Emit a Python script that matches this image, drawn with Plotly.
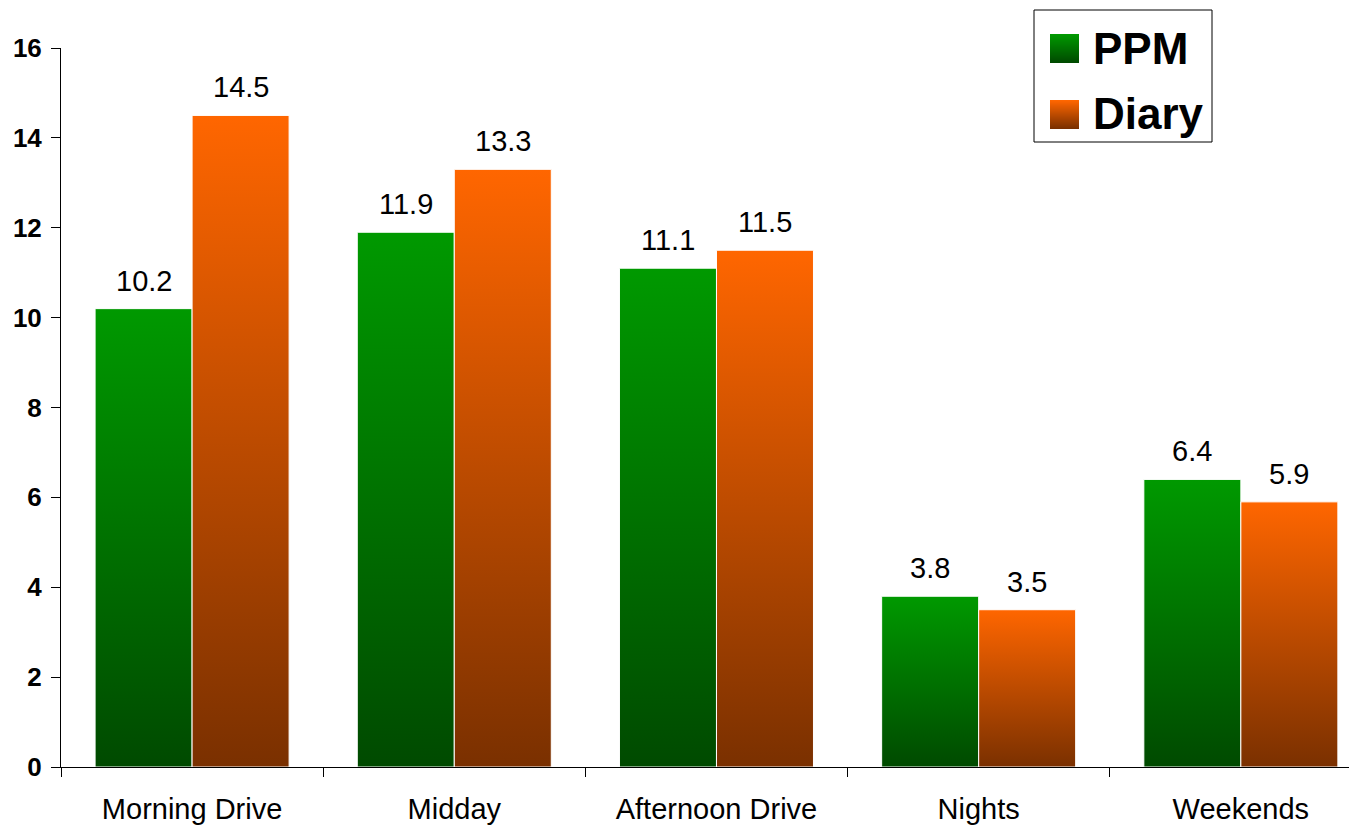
import base64
import struct
import zlib
import plotly.graph_objects as go

categories = ["Morning Drive", "Midday", "Afternoon Drive", "Nights", "Weekends"]
ppm = [10.2, 11.9, 11.1, 3.8, 6.4]
diary = [14.5, 13.3, 11.5, 3.5, 5.9]
y_ticks = [0, 2, 4, 6, 8, 10, 12, 14, 16]

series = [
    ("PPM", ppm, "#004a00", "#009900", -1),
    ("Diary", diary, "#7a3000", "#ff6600", 0),
]
BAR_W = 0.37
FONT = "Arial, Liberation Sans, sans-serif"

# plot-area geometry in page pixels (page has an 8px body margin)
PX_L, PX_R, PX_T, PX_B = 61, 1357, 48, 767


def px_x(p):
    return (p - PX_L) / (PX_R - PX_L)


def px_y(p):
    return (PX_B - p) / (PX_B - PX_T)


def hex_rgb(h):
    h = h.lstrip("#")
    return tuple(int(h[i:i + 2], 16) for i in (0, 2, 4))


def swatch(top, bottom, size=29):
    """Small vertical-gradient PNG used as a legend key."""
    t, b = hex_rgb(top), hex_rgb(bottom)
    raw = b""
    for r in range(size):
        f = r / (size - 1)
        c = bytes(round(t[k] + (b[k] - t[k]) * f) for k in range(3))
        raw += b"\x00" + c * size

    def chunk(tag, data):
        return (struct.pack(">I", len(data)) + tag + data
                + struct.pack(">I", zlib.crc32(tag + data) & 0xffffffff))

    png = (b"\x89PNG\r\n\x1a\n"
           + chunk(b"IHDR", struct.pack(">IIBBBBB", size, size, 8, 2, 0, 0, 0))
           + chunk(b"IDAT", zlib.compress(raw))
           + chunk(b"IEND", b""))
    return "data:image/png;base64," + base64.b64encode(png).decode()


fig = go.Figure()
for name, vals, dark, bright, off in series:
    for i, v in enumerate(vals):
        x0 = i + off * BAR_W
        x1 = x0 + BAR_W
        fig.add_trace(go.Scatter(
            x=[x0, x1, x1, x0, x0], y=[0, 0, v, v, 0],
            mode="lines", fill="toself",
            line=dict(color="white", width=1),
            fillgradient=dict(type="vertical", start=0, stop=v,
                              colorscale=[[0, dark], [1, bright]]),
            name=name, showlegend=False, hoverinfo="skip",
        ))
        fig.add_annotation(x=x0 + BAR_W / 2, y=v, text=f"{v:.1f}",
                           showarrow=False, yanchor="bottom", yshift=10,
                           font=dict(family=FONT, size=29, color="black"))

# manual legend (box, gradient swatches, labels)
fig.add_shape(type="rect", xref="paper", yref="paper",
              x0=px_x(1034), x1=px_x(1212), y0=px_y(142), y1=px_y(10),
              line=dict(color="black", width=1), fillcolor="rgba(0,0,0,0)",
              layer="above")
legend_rows = [("PPM", "#009900", "#004a00", 34, 48),
               ("Diary", "#ff6600", "#7a3000", 100, 114)]
for label, top, bottom, sw_top, text_mid in legend_rows:
    fig.add_layout_image(source=swatch(top, bottom), xref="paper", yref="paper",
                         x=px_x(1050), y=px_y(sw_top), sizex=29 / (PX_R - PX_L),
                         sizey=29 / (PX_B - PX_T), sizing="stretch",
                         xanchor="left", yanchor="top", layer="above")
    fig.add_annotation(xref="paper", yref="paper", x=px_x(1091), y=px_y(text_mid),
                       text=f"<b>{label}</b>", showarrow=False,
                       xanchor="left", yanchor="middle",
                       font=dict(family=FONT, size=44, color="black"))

fig.update_layout(
    width=1349, height=817,
    margin=dict(l=53, r=0, t=40, b=58),
    plot_bgcolor="white", paper_bgcolor="white",
    font=dict(family=FONT, color="black"),
    showlegend=False,
    xaxis=dict(range=[-0.5, 4.443], tickmode="array",
               tickvals=list(range(len(categories))), ticktext=categories,
               ticks="", showgrid=False, zeroline=False, automargin=False,
               showline=True, linecolor="black", linewidth=1,
               ticklabelstandoff=16,
               tickfont=dict(family=FONT, size=29, color="black"),
               minor=dict(tickmode="array",
                          tickvals=[i - 0.5 for i in range(len(categories))],
                          ticks="outside", ticklen=9, tickcolor="black",
                          showgrid=False)),
    yaxis=dict(range=[0, 16], tickmode="array", tickvals=y_ticks,
               ticks="outside", ticklen=9, tickcolor="black",
               showgrid=False, zeroline=False, automargin=False,
               showline=True, linecolor="black", linewidth=1,
               ticklabelstandoff=4,
               tickfont=dict(family=FONT, size=26, color="black", weight="bold")),
)

fig.write_html("out.html")
